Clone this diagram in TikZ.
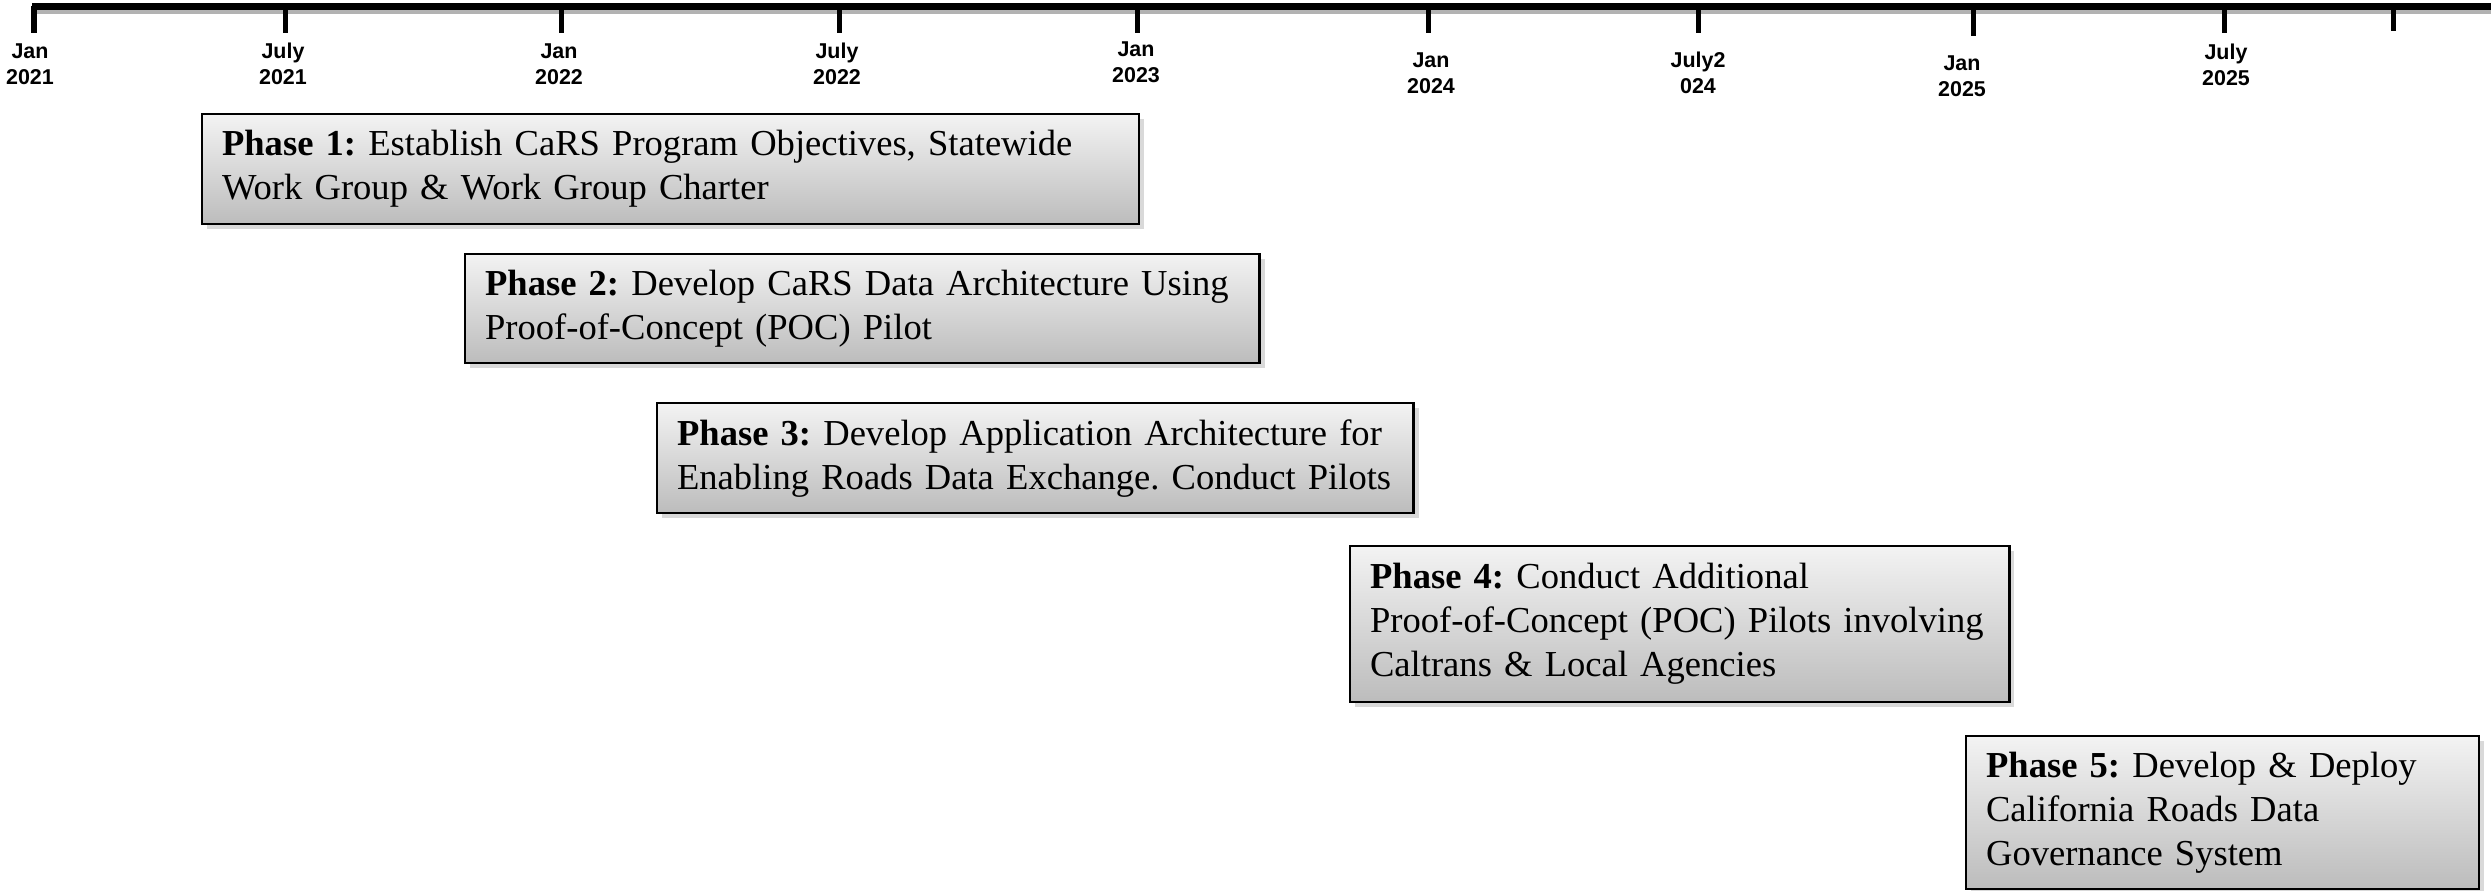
\documentclass[tikz,border=0pt]{standalone}
\usepackage{fontspec}
\setmainfont{Liberation Serif}
\newfontfamily\axisfont{Liberation Sans}
\usetikzlibrary{shadows}
\definecolor{boxtop}{RGB}{243,243,243}
\definecolor{boxbottom}{RGB}{188,188,188}
\tikzset{
    phasebox/.style={draw=black, line width=0.6pt, top color=boxtop, bottom color=boxbottom,
        anchor=north west, align=left, inner xsep=0.2cm, inner ysep=0pt,
        font=\fontsize{10.4}{12.5}\selectfont\frenchspacing,
        drop shadow={shadow xshift=0.05cm, shadow yshift=-0.05cm, opacity=0.3}},
    datelabel/.style={align=center, inner sep=0pt, font=\axisfont\bfseries\fontsize{6.1}{7.4}\selectfont}
}
\begin{document}
\begin{tikzpicture}[x=0.01cm,y=-0.01cm]
                \useasboundingbox (0,0) rectangle (2491,890);
                % time axis
                \draw[line width=0.07cm, black!30] (33,10) -- (2491,10);
                \draw[line width=0.07cm] (32,6) -- (2491,6);
                \foreach \x/\b in {34/33, 285/33, 561/33, 839/33, 1137/33, 1428/33, 1698/33, 1973/36, 2224/33, 2393/31}
                {
                    \draw[line width=0.05cm] (\x,6) -- (\x,\b);
                }
                \foreach \x/\y/\t [count=\i] in {30/64/{Jan\\2021}, 283/64/{July\\2021}, 559/64/{Jan\\2022},
                    837/64/{July\\2022}, 1136/62/{Jan\\2023}, 1431/73/{Jan\\2024}, 1698/73/{July2\\024},
                    1962/76/{Jan\\2025}, 2226/65/{July\\2025}}
                {
                    \node[datelabel] (d\i) at (\x,\y) {\t};
                }
                % phases
                \node[phasebox, minimum height=1.10cm, text width=8.96cm] (p1) at (201,113)
                    {\textbf{Phase 1:} Establish CaRS Program Objectives, Statewide\\Work Group \& Work Group Charter};
                \node[phasebox, minimum height=1.09cm, text width=7.54cm] (p2) at (464,253)
                    {\textbf{Phase 2:} Develop CaRS Data Architecture Using\\Proof-of-Concept (POC) Pilot};
                \node[phasebox, minimum height=1.10cm, text width=7.16cm] (p3) at (656,402)
                    {\textbf{Phase 3:} Develop Application Architecture for\\Enabling Roads Data Exchange. Conduct Pilots};
                \node[phasebox, minimum height=1.56cm, text width=6.19cm] (p4) at (1349,545)
                    {\textbf{Phase 4:} Conduct Additional\\Proof-of-Concept (POC) Pilots involving\\Caltrans \& Local Agencies};
                \node[phasebox, minimum height=1.53cm, text width=4.73cm] (p5) at (1965,735)
                    {\textbf{Phase 5:} Develop \& Deploy\\California Roads Data\\Governance System};
            \end{tikzpicture}
\end{document}
